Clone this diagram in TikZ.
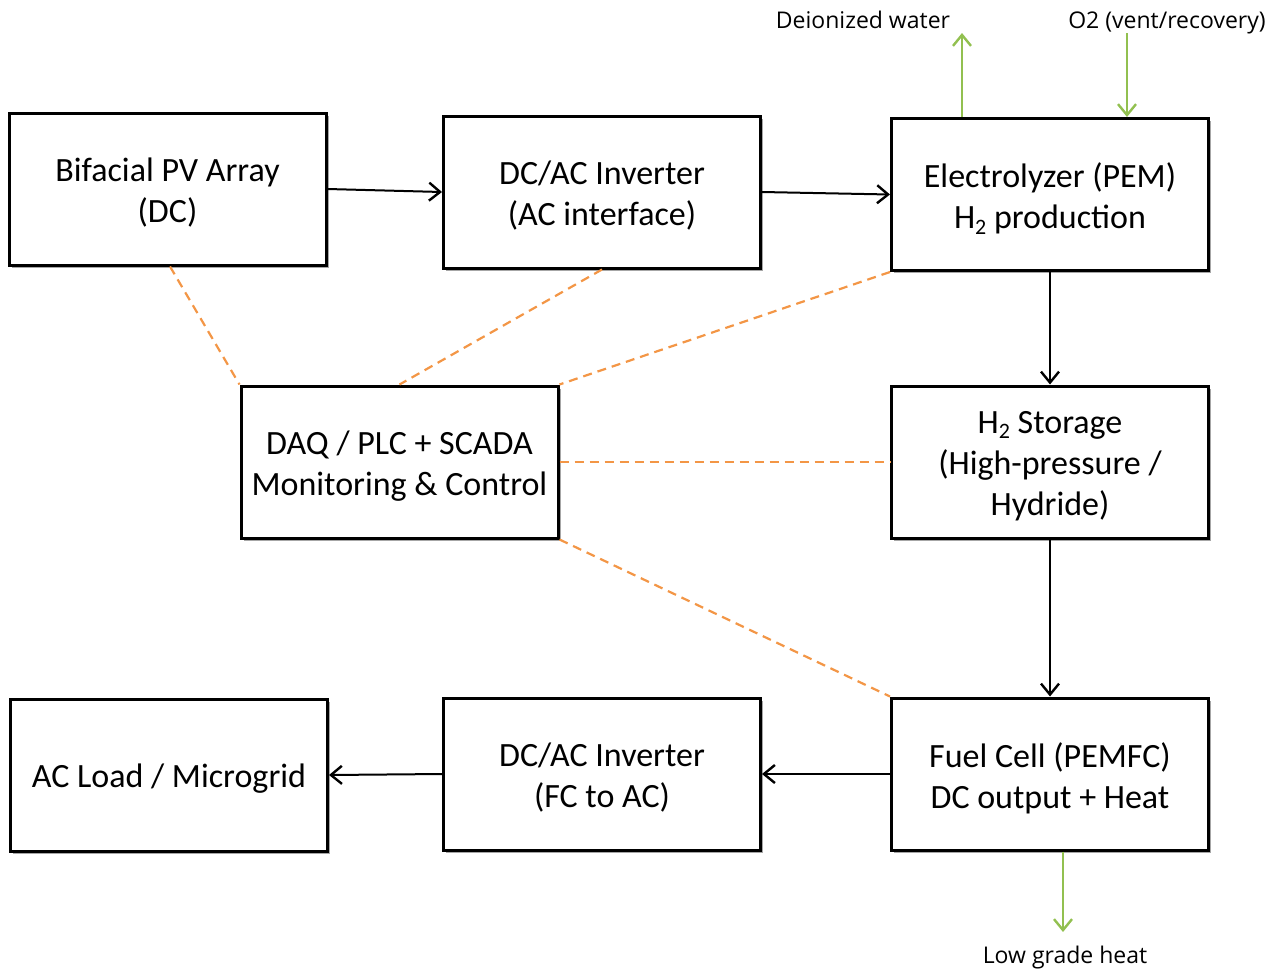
\documentclass[tikz,border=0pt]{standalone}
\usepackage{fontspec}
\setmainfont{Carlito}
\newfontfamily\labelfont{Open Sans}
\usetikzlibrary{shadows,arrows.meta}
\newcommand\hsub[1]{\raisebox{-0.35ex}{\fontsize{22}{22}\selectfont #1}}
\begin{document}
\begin{tikzpicture}[x=1pt,y=-1pt,
  btext/.style={align=center,inner sep=0pt,font=\fontsize{34}{41}\selectfont,yshift=-4pt},
  blk/.style={draw=black,line width=3pt,fill=white,minimum width=317pt,minimum height=152pt,
    inner sep=0pt,label={[btext]center:{#1}},
    drop shadow={shadow xshift=2.5pt,shadow yshift=-2.5pt,opacity=0.35,fill=black}},
  flow/.style={draw=black,line width=2pt,-{Straight Barb[length=11pt,width=18pt,line width=2.4pt]}},
  ctrl/.style={line width=2.2pt,dash pattern=on 9pt off 6pt},
  aux/.style={line width=2.4pt,-{Straight Barb[length=11pt,width=18pt,line width=2.4pt]}},
  lbl/.style={font=\labelfont\fontsize{23}{26}\selectfont,inner sep=0pt,anchor=base}]
\useasboundingbox (0,0) rectangle (1280,970);
\definecolor{ctrlorange}{RGB}{243,150,70}
\definecolor{auxgreen}{RGB}{146,192,80}
\tikzset{ctrl/.append style={draw=ctrlorange},aux/.append style={draw=auxgreen}}

\node[blk={Bifacial PV Array\\(DC)}] (pv) at (167.5,189) {};
\node[blk={DC/AC Inverter\\(AC interface)}] (inv1) at (602,192) {};
\node[blk={Electrolyzer (PEM)\\H\hsub{2} production}] (el) at (1050,194.5) {};
\node[blk={DAQ / PLC + SCADA\\Monitoring \& Control}] (daq) at (399.5,462) {};
\node[blk={H\hsub{2} Storage\\(High-pressure /\\Hydride)}] (st) at (1050,462) {};
\node[blk={AC Load / Microgrid}] (ac) at (169,775) {};
\node[blk={DC/AC Inverter\\(FC to AC)}] (inv2) at (602,774) {};
\node[blk={Fuel Cell (PEMFC)\\DC output + Heat}] (fc) at (1050,774) {};

\draw[flow] (pv.east) -- (inv1.west);
\draw[flow] (inv1.east) -- (el.west);
\draw[flow] (el.south) -- (st.north);
\draw[flow] (st.south) -- (fc.north);
\draw[flow] (fc.west) -- (inv2.east);
\draw[flow] (inv2.west) -- (ac.east);

\draw[ctrl] ([xshift=2.5pt]pv.south) -- (daq.north west);
\draw[ctrl] (inv1.south) -- (daq.north);
\draw[ctrl] (el.south west) -- (daq.north east);
\draw[ctrl] (daq.east) -- (st.west);
\draw[ctrl] (daq.south east) -- (fc.north west);

\node[lbl] (dw) at (863,28) {Deionized water};
\node[lbl] (o2) at (1167,28) {O2 (vent/recovery)};
\node[lbl] (lh) at (1065,963) {Low grade heat};
\coordinate (dwtop) at (962,33);
\coordinate (o2top) at (1127,33);
\coordinate (lhend) at (1063,932);
\draw[aux] (el.north -| dwtop) -- (dwtop);
\draw[aux] (o2top) -- (el.north -| o2top);
\draw[aux] (fc.south -| lhend) -- (lhend);
\end{tikzpicture}
\end{document}
